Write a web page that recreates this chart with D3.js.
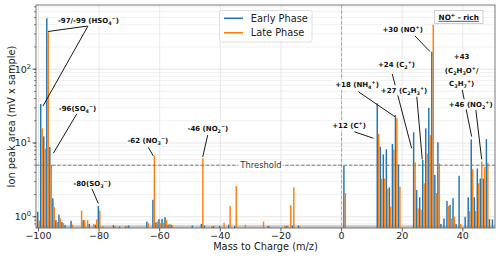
<!DOCTYPE html>
<html><head><meta charset="utf-8">
<script src="https://cdn.jsdelivr.net/npm/d3@7"></script>
<style>body{margin:0;background:#fff}svg{display:block}</style>
</head><body><svg id="c" width="500" height="258"></svg>
<script>
// ---------- data ----------
const mz    = [-100,-99,-98,-97,-96,-95,-94,-93,-92,-91,-89,-86,-85,-84,-83,-82,-81,-80,-79,-75,-73,-71,-70,-64,-62,-61,-60,-59,-58,-57,-56,-49,-46,-45,-43,-42,-40,-39,-37,-35,-32,-26,-24,-19,-18,-17,-16,-14,
               1,12,13,14,15,16,17,18,19,24,25,26,27,28,29,30,31,32,33,34,35,36,37,38,39,41,42,43,44,45,46,47,48,49,50];
const early = [1.17,33.7,12.3,490,8.8,1.78,0.9,1.07,0.85,0.77,0.88,0,0.9,0,0.8,0,0.78,1.4,0,0.77,0.74,0.74,0.76,0.86,1.7,0.84,0.93,0.94,0.99,0.78,0.78,0.76,0.8,0.76,0,0.75,0.75,0,0.78,0.75,0,0,0.75,0,0.75,0,0.76,0.76,
               4.9,34.5,8.9,7.0,8.2,2.5,9.7,24,5.1,14,2.3,1.84,5.9,15.8,30,173,3.7,10.2,0.8,0.95,1.64,1.45,1.78,0.8,3.6,1.0,1.84,11.2,1.84,4.5,3.3,3.3,11.3,0.93,0.92];
const late  = [0.89,15.8,8.4,316,5.1,1.35,0.85,0.95,0.82,0,0.78,1.21,0.9,0.9,0,0.8,0.92,1.22,0.75,0.75,0,0.75,0,0.82,6.7,0.86,0.82,0.83,0.9,0.8,0.76,0,6.2,0,0.75,0,0,0.83,1.4,2.6,0.78,0.86,0.75,0.76,0.76,1.44,2.5,0.74,
               2.1,13.3,3.3,3.3,2.4,1.37,8.2,21.6,2.56,5.5,1.3,1.25,2.84,7.2,12.8,400,2.1,5.3,0,0,1.4,0.95,1.0,0,0.8,0,1.2,4.4,1.2,2.85,5.6,4.7,5.4,0,0];
const seriesNames = ["Early Phase","Late Phase"];
const xTicks = [-100,-80,-60,-40,-20,0,20,40];
const yTicks = [1,10,100];
const threshold = 5;
const thresholdLabel = "Threshold";
const xLabel = "Mass to Charge (m/z)";
const yLabel = "Ion peak area (mV x sample)";
const boxLabel = "NO^+ - rich";
// annotations: label lines (markup: _x subscript, ^x superscript), text anchor (m/z, value), leader lines [start, end] in data coords
const annoLabels = [["-97/-99 (HSO_4^−)"],["-96(SO_4^−)"],["-80(SO_3^−)"],["-62 (NO_3^−)"],["-46 (NO_2^−)"],
                    ["+12 (C^+)"],["+18 (NH_4^+)"],["+24 (C_2^+)"],["+27 (C_2H_3^+)"],["+30 (NO^+)"],
                    ["+43","(C_2H_3O^+/","C_3H_7^+)"],["+46 (NO_2^+)"]];
const annoText  = [[-83.5,423],[-87.1,27.1],[-82.3,2.64],[-63.9,10.1],[-44.1,14.7],
                   [2.44,15.8],[5.08,56.9],[18.1,108],[20.6,48],[20.15,322],
                   [39.6,136],[42.6,31]];
const annoLines = [
  [[[-83.65,385],[-96.85,324]],[[-83.65,385],[-98.5,31.7]]],
  [[[-87.3,25],[-95.1,7.25]]],
  [[[-82.4,2.42],[-80.25,1.52]]],
  [[[-63.76,8.74],[-62.1,6.67]]],
  [[[-44.17,12.8],[-45.8,6.46]]],
  [[[4.19,14.2],[10.46,11.6]]],
  [[[5.5,49.6],[17.6,22.7]]],
  [[[16.7,86],[23.1,8.48]]],
  [[[24.8,42.4],[26.6,6.0]]],
  [[[24.2,282],[29.16,173]]],
  [[[39.8,52.3],[42.9,12.2]]],
  [[[44.3,27.9],[46.2,6.0]]]
];

// ---------- layout ----------
const W=500,H=258, L=36, R=495, T=5, B=228;
const svg = d3.select('#c');
const x = d3.scaleLinear().domain([-100.8,50.6]).range([L,R]);
const y = d3.scaleLog().domain([0.705,741]).range([B,T]);
const blue="#1f77b4", orange="#ff7f0e";
const FONT="DejaVu Sans, sans-serif";

svg.append("defs").append("clipPath").attr("id","clip")
  .append("rect").attr("x",L).attr("y",T).attr("width",R-L).attr("height",B-T);

// grid
const g = svg.append("g");
const minor = [];
for (let e=-1;e<=2;e++) for (let k=1;k<=9;k++){const v=k*Math.pow(10,e); if(v>0.705&&v<741) minor.push(v);}
g.selectAll("line.hg").data(minor).join("line")
  .attr("x1",L).attr("x2",R).attr("y1",d=>y(d)).attr("y2",d=>y(d))
  .attr("stroke",d=>yTicks.includes(d)?"#dedede":"#ececec").attr("stroke-width",0.8);
g.selectAll("line.vg").data(xTicks).join("line")
  .attr("x1",d=>x(d)).attr("x2",d=>x(d)).attr("y1",T).attr("y2",B)
  .attr("stroke","#e2e2e2").attr("stroke-width",0.8);

// bottom band
svg.append("rect").attr("x",L).attr("y",B-2.8).attr("width",R-L).attr("height",2.8).attr("fill","#c9c9c9");

// bars
const bars = svg.append("g").attr("clip-path","url(#clip)");
const bw = 0.48;
const data = mz.map((m,i)=>({m,e:early[i],l:late[i]}));
bars.selectAll("rect.e").data(data.filter(d=>d.e>0)).join("rect")
  .attr("x",d=>x(d.m-bw)).attr("width",x(bw)-x(0)).attr("y",d=>y(d.e)).attr("height",d=>B-y(d.e)).attr("fill",blue);
bars.selectAll("rect.l").data(data.filter(d=>d.l>0)).join("rect")
  .attr("x",d=>x(d.m)).attr("width",x(bw)-x(0)).attr("y",d=>y(d.l)).attr("height",d=>B-y(d.l)).attr("fill",orange);

// zero line & threshold
svg.append("line").attr("x1",x(0)).attr("x2",x(0)).attr("y1",T).attr("y2",B)
  .attr("stroke","#a8a8a8").attr("stroke-width",1).attr("stroke-dasharray","3.7,1.6");
svg.append("line").attr("x1",L).attr("x2",R).attr("y1",y(threshold)).attr("y2",y(threshold))
  .attr("stroke","#7a7a7a").attr("stroke-width",1).attr("stroke-dasharray","3.7,1.6");

// frame
svg.append("rect").attr("x",L).attr("y",T).attr("width",R-L).attr("height",B-T)
  .attr("fill","none").attr("stroke","#6b6b6b").attr("stroke-width",0.9);

// axes ticks
const ax = svg.append("g");
ax.selectAll("line.xt").data(xTicks).join("line")
  .attr("x1",d=>x(d)).attr("x2",d=>x(d)).attr("y1",B).attr("y2",B+3.5).attr("stroke","#333").attr("stroke-width",0.8);
ax.selectAll("text.xt").data(xTicks).join("text")
  .attr("x",d=>x(d)).attr("y",B+11).attr("text-anchor","middle")
  .attr("font-family",FONT).attr("font-size",9.5).attr("fill","#222")
  .text(d=>d<0?"−"+Math.abs(d):String(d));
ax.selectAll("line.ymin").data(minor).join("line")
  .attr("x1",L-2).attr("x2",L).attr("y1",d=>y(d)).attr("y2",d=>y(d)).attr("stroke","#333").attr("stroke-width",0.6);
ax.selectAll("line.yt").data(yTicks).join("line")
  .attr("x1",L-3.5).attr("x2",L).attr("y1",d=>y(d)).attr("y2",d=>y(d)).attr("stroke","#333").attr("stroke-width",0.8);
yTicks.forEach(v=>{
  const t = ax.append("text").attr("x",L-5).attr("y",y(v)+3.5).attr("text-anchor","end")
    .attr("font-family",FONT).attr("font-size",9.5).attr("fill","#222");
  t.append("tspan").text("10");
  t.append("tspan").attr("dy",-4).attr("font-size",6.7).text(String(Math.round(Math.log10(v))));
});
svg.append("text").attr("x",(L+R)/2).attr("y",250).attr("text-anchor","middle")
  .attr("font-family",FONT).attr("font-size",9.8).attr("fill","#222").text(xLabel);
svg.append("text").attr("transform",`translate(15,${(T+B)/2}) rotate(-90)`).attr("text-anchor","middle")
  .attr("font-family",FONT).attr("font-size",9.8).attr("fill","#222").text(yLabel);

// rich text helper
function rich(sel, str, fs){
  let off=0;
  const parts=[]; let i=0, buf="";
  while(i<str.length){
    const c=str[i];
    if((c==="_"||c==="^")&&i+1<str.length){ if(buf){parts.push([buf,0]);buf="";} parts.push([str[i+1],c==="_"?1:-1]); i+=2; }
    else {buf+=c;i++;}
  }
  if(buf) parts.push([buf,0]);
  parts.forEach(([s,k])=>{
    const target = k===0?0:(k===1?fs*0.3:-fs*0.42);
    const ts = sel.append("tspan").attr("dy",target-off).text(s);
    if(k!==0) ts.attr("font-size",fs*0.7);
    off=target;
  });
}

// threshold label
{
  const tx=261, ty=y(threshold)+2.9;
  const t = svg.append("text").attr("x",tx).attr("y",ty).attr("text-anchor","middle")
    .attr("font-family",FONT).attr("font-size",8.4).attr("fill","#333").text(thresholdLabel);
  const bb=t.node().getBBox();
  svg.insert("rect", function(){return t.node();}).attr("x",bb.x-1).attr("y",bb.y).attr("width",bb.width+2).attr("height",bb.height).attr("fill","#fff");
}

// annotations
const an = svg.append("g");
annoLines.forEach(ls=>ls.forEach(([a,b])=>{
  an.append("line").attr("x1",x(a[0])).attr("y1",y(a[1])).attr("x2",x(b[0])).attr("y2",y(b[1]))
    .attr("stroke","#000").attr("stroke-width",0.9);
}));
const at = svg.append("g");
annoLabels.forEach((lines,i)=>{
  const [m,v]=annoText[i];
  const fs=7.0;
  const base=y(v);
  lines.forEach((ln,j)=>{
    const t = at.append("text").attr("x",x(m)).attr("y",base+j*13.35).attr("text-anchor","middle")
      .attr("font-family",FONT).attr("font-weight","bold").attr("font-size",fs).attr("fill","#111");
    rich(t, ln, fs);
    const bb=t.node().getBBox();
    at.insert("rect", function(){return t.node();}).attr("x",bb.x-0.5).attr("y",bb.y+0.5).attr("width",bb.width+1).attr("height",bb.height-1).attr("fill","#fff");
  });
});

// legend
const lg = svg.append("g");
lg.append("rect").attr("x",219.5).attr("y",10.5).attr("width",92.5).attr("height",31.5).attr("rx",2)
  .attr("fill","#fff").attr("fill-opacity",0.85).attr("stroke","#d6d6d6").attr("stroke-width",0.8);
[blue,orange].forEach((c,i)=>{
  lg.append("line").attr("x1",224).attr("x2",243).attr("y1",18.3+i*14.5).attr("y2",18.3+i*14.5).attr("stroke",c).attr("stroke-width",1.6);
  lg.append("text").attr("x",250.7).attr("y",21.7+i*14.5).attr("font-family",FONT).attr("font-size",9.8).attr("fill","#222").text(seriesNames[i]);
});

// NO+ rich box
{
  svg.append("rect").attr("x",434.5).attr("y",10.5).attr("width",48.5).attr("height",13).attr("fill","#fff").attr("stroke","#c4c4c4").attr("stroke-width",0.8);
  const t=svg.append("text").attr("x",458.7).attr("y",19.8).attr("text-anchor","middle")
    .attr("font-family",FONT).attr("font-weight","bold").attr("font-size",7.3).attr("fill","#111");
  rich(t, boxLabel, 7.3);
  const bb=t.node().getBBox();
  svg.append("line").attr("x1",bb.x).attr("x2",bb.x+bb.width).attr("y1",21.3).attr("y2",21.3)
    .attr("stroke","#111").attr("stroke-width",0.7);
}
</script></body></html>
